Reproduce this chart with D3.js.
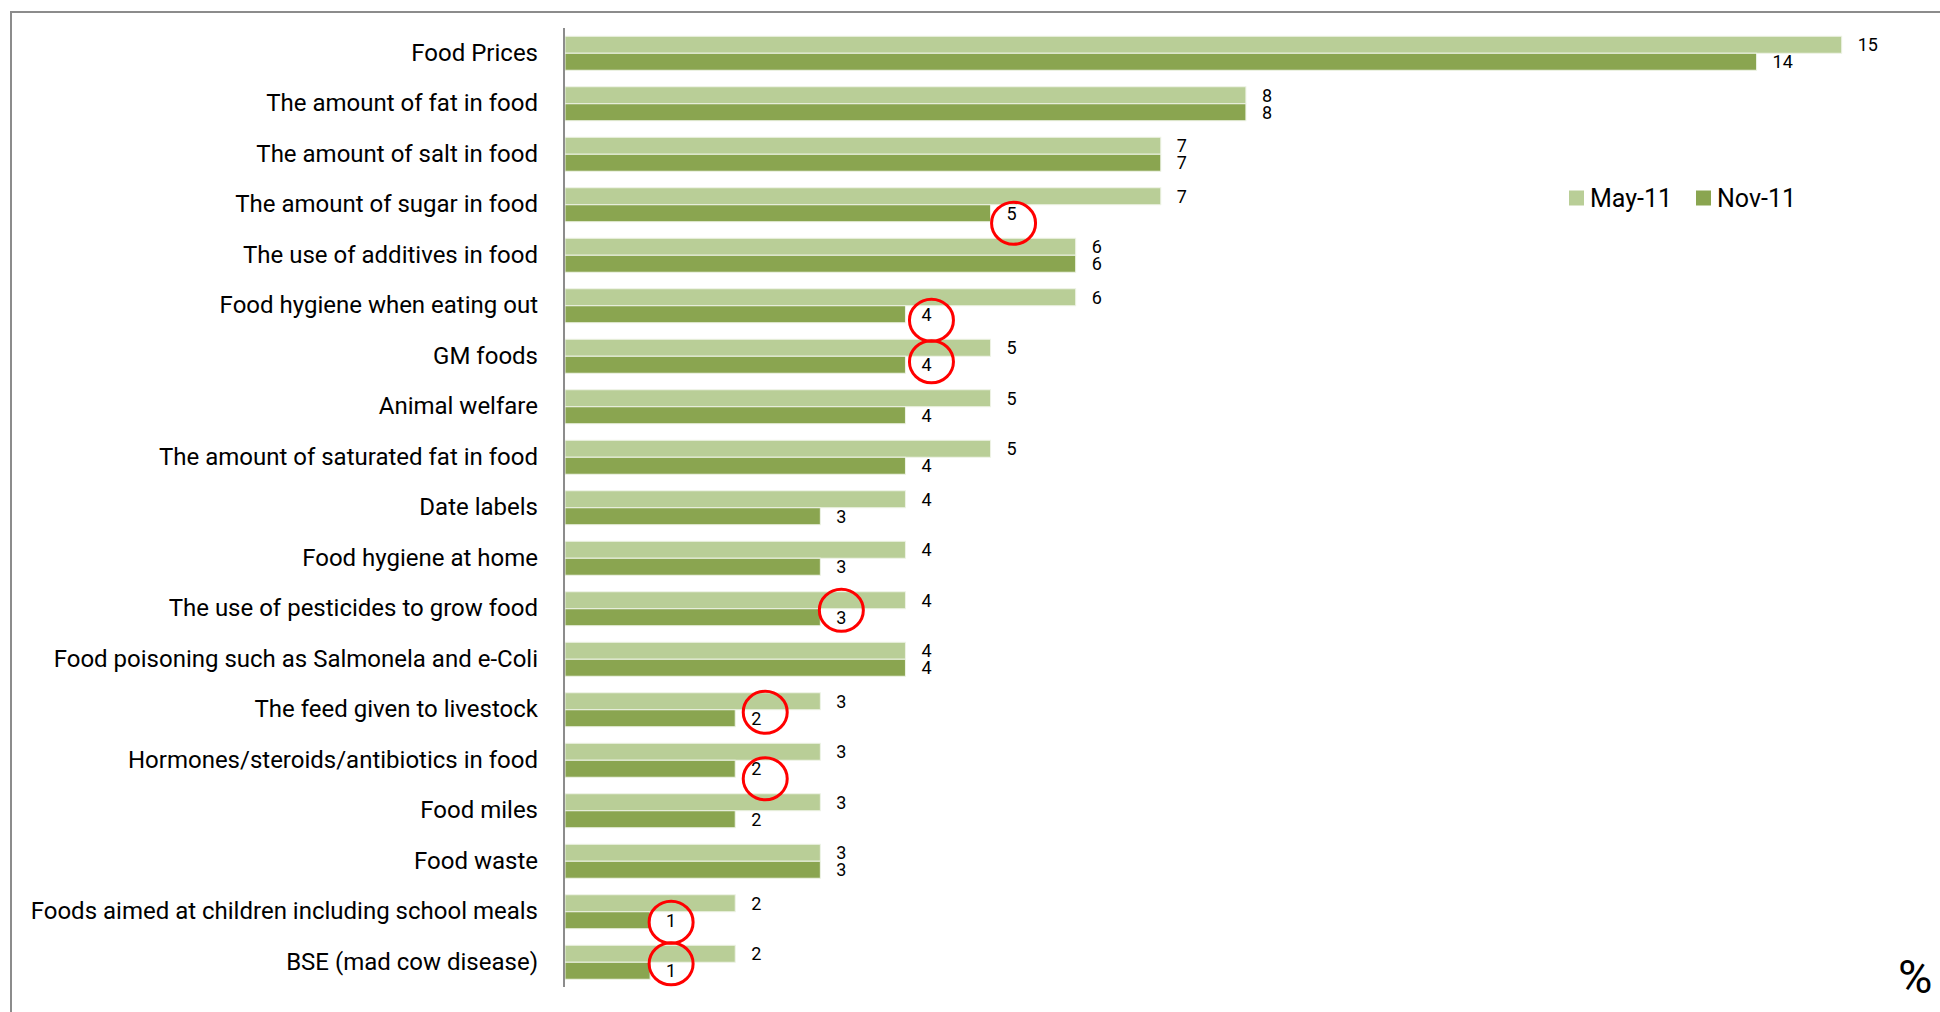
<!DOCTYPE html>
<html>
<head>
<meta charset="utf-8">
<script src="https://cdn.jsdelivr.net/npm/d3@7"></script>
<style>
  html, body { margin: 0; padding: 0; background: #fff; }
  svg { display: block; }
  text { font-family: Roboto, "Noto Sans", sans-serif; fill: #000; }
</style>
</head>
<body>
<script>
// Food issues of concern, % of respondents, two survey waves
const categories = [
  "Food Prices",
  "The amount of fat in food",
  "The amount of salt in food",
  "The amount of sugar in food",
  "The use of additives in food",
  "Food hygiene when eating out",
  "GM foods",
  "Animal welfare",
  "The amount of saturated fat in food",
  "Date labels",
  "Food hygiene at home",
  "The use of pesticides to grow food",
  "Food poisoning such as Salmonela and e-Coli",
  "The feed given to livestock",
  "Hormones/steroids/antibiotics in food",
  "Food miles",
  "Food waste",
  "Foods aimed at children including school meals",
  "BSE (mad cow disease)"
];
const seriesNames = ["May-11", "Nov-11"];
const may11 = [15, 8, 7, 7, 6, 6, 5, 5, 5, 4, 4, 4, 4, 3, 3, 3, 3, 2, 2];
const nov11 = [14, 8, 7, 5, 6, 4, 4, 4, 4, 3, 3, 3, 4, 2, 2, 2, 3, 1, 1];

// Nov-11 figures that fell since May, ringed in red
const ringed = [
  "The amount of sugar in food",
  "Food hygiene when eating out",
  "GM foods",
  "The use of pesticides to grow food",
  "The feed given to livestock",
  "Hormones/steroids/antibiotics in food",
  "Foods aimed at children including school meals",
  "BSE (mad cow disease)"
];
// hand-placed nudge of each ring from its label (px)
const ringNudge = [[1, 8], [4, 4], [4, -5], [-1, -9], [8, -8], [8, 8], [-1, 0], [-1, -9]];

const colors = { "May-11": "#B9CE97", "Nov-11": "#8AA550" };

const W = 1940, H = 1012;
const svg = d3.select("body").append("svg").attr("width", W).attr("height", H);

// outer frame (runs off the right and bottom edges)
svg.append("path")
  .attr("d", `M11,${H + 5} L11,12 L${W + 5},12`)
  .attr("fill", "none").attr("stroke", "#8c8c8c").attr("stroke-width", 2);

const x = d3.scaleLinear().domain([0, 15]).range([565, 1841.7]);
const y0 = d3.scaleBand().domain(categories).range([28, 987.5]).padding(0);
const y1 = d3.scaleBand().domain(seriesNames).range([0, y0.bandwidth()])
  .paddingInner(0).paddingOuter(0.485);

const rows = categories.map((c, i) => ({
  cat: c,
  vals: [{ s: "May-11", v: may11[i] }, { s: "Nov-11", v: nov11[i] }]
}));

const g = svg.append("g");
const groups = g.selectAll("g.row").data(rows).join("g")
  .attr("class", "row")
  .attr("transform", d => `translate(0,${y0(d.cat)})`);

groups.selectAll("rect").data(d => d.vals).join("rect")
  .attr("x", x(0))
  .attr("y", d => y1(d.s))
  .attr("width", d => x(d.v) - x(0))
  .attr("height", y1.bandwidth())
  .attr("fill", d => colors[d.s])
  .attr("stroke", "#eef3e6").attr("stroke-width", 1);

groups.selectAll("text.val").data(d => d.vals).join("text")
  .attr("class", "val")
  .attr("x", d => x(d.v) + 16)
  .attr("y", d => y1(d.s) + y1.bandwidth() / 2)
  .attr("dy", "0.35em")
  .attr("font-size", 18)
  .text(d => d.v);

// category axis
const yAxis = d3.axisLeft(y0).tickSize(0).tickPadding(26);
const ax = svg.append("g").attr("transform", `translate(${x(0) - 1},0)`).call(yAxis);
ax.select(".domain").attr("stroke", "#8c8c8c").attr("stroke-width", 2)
  .attr("d", `M0,28V987`);
ax.selectAll(".tick text")
  .attr("font-size", 24)
  .attr("font-family", "Roboto, 'Noto Sans', sans-serif")
  .attr("fill", "#000");

// red rings around selected Nov-11 values
svg.append("g").selectAll("ellipse").data(ringed).join("ellipse")
  .attr("cx", (c, i) => x(nov11[categories.indexOf(c)]) + 22 + ringNudge[i][0])
  .attr("cy", (c, i) => y0(c) + y1("Nov-11") + y1.bandwidth() / 2 + 2 + ringNudge[i][1])
  .attr("rx", 22).attr("ry", 21)
  .attr("fill", "none").attr("stroke", "#ff0000").attr("stroke-width", 3);

// legend
const legend = svg.append("g").attr("transform", "translate(1569,198)");
const li = legend.selectAll("g").data(seriesNames).join("g")
  .attr("transform", (d, i) => `translate(${i * 127},0)`);
li.append("rect").attr("x", 0).attr("y", -7.5).attr("width", 15).attr("height", 15)
  .attr("fill", d => colors[d]);
li.append("text").attr("x", 21).attr("dy", "0.35em").attr("font-size", 25).text(d => d);

// unit
svg.append("text").attr("x", 1898).attr("y", 993).attr("font-size", 47).text("%");
</script>
</body>
</html>
